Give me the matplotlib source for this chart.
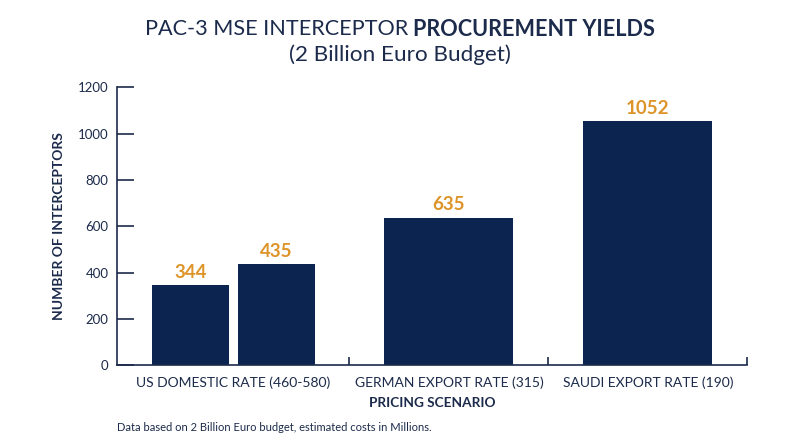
import matplotlib
matplotlib.use("Agg")
import matplotlib.pyplot as plt

# ---------- Дані ----------
categories = ["US DOMESTIC RATE (460-580)", "GERMAN EXPORT RATE (315)", "SAUDI EXPORT RATE (190)"]
us_values = [344, 435]
german_value = 635
saudi_value = 1052
y_ticks = [0, 200, 400, 600, 800, 1000, 1200]

NAVY = "#0c2550"
TEXT = "#1c2b4b"
ORANGE = "#dd9428"

plt.rcParams["font.family"] = ["Lato", "DejaVu Sans"]

fig = plt.figure(figsize=(8.0, 4.47), dpi=100)
ax = fig.add_axes([0.146, 0.183, 0.788, 0.622])

# позиції стовпців
us_x = [-0.30, 0.133]
us_w = 0.387
main_x = [1, 2]
main_w = 0.648

bars_us = ax.bar(us_x, us_values, width=us_w, color=NAVY)
bars_main = ax.bar(main_x, [german_value, saudi_value], width=main_w, color=NAVY)

for b in list(bars_us) + list(bars_main):
    ax.text(b.get_x() + b.get_width() / 2, b.get_height() + 20, str(int(b.get_height())),
            ha="center", va="bottom", color=ORANGE, fontsize=13.5, fontweight="bold")

ax.set_xlim(-0.67, 2.5)
ax.set_ylim(0, 1200)
ax.set_yticks(y_ticks)
ax.set_xticks([(us_x[0] + us_x[1]) / 2, 1, 2])
ax.set_xticklabels(categories)
ax.set_xticks([0.5, 1.5, 2.5], minor=True)

for s in ["top", "right"]:
    ax.spines[s].set_visible(False)
for s in ["left", "bottom"]:
    ax.spines[s].set_color(TEXT)
    ax.spines[s].set_linewidth(1.2)

ax.tick_params(axis="y", direction="in", length=12, width=1.2, color=TEXT,
               labelcolor=TEXT, labelsize=9.5, pad=6)
ax.tick_params(axis="x", which="major", length=0, labelcolor=TEXT, labelsize=10, pad=8)
ax.tick_params(axis="x", which="minor", direction="in", length=6, width=1.2, color=TEXT)

ax.set_ylabel("NUMBER OF INTERCEPTORS", fontsize=10, fontweight="bold", color=TEXT, labelpad=9)
ax.set_xlabel("PRICING SCENARIO", fontsize=9.8, fontweight="bold", color=TEXT, labelpad=6)

# ---------- Заголовок (змішана товщина шрифту) ----------
part1 = "PAC-3 MSE INTERCEPTOR "
part2 = "PROCUREMENT YIELDS"
t1 = fig.text(0, 0.935, part1, fontsize=15.6, color=TEXT, va="center", ha="left")
t2 = fig.text(0, 0.935, part2, fontsize=15.6, color=TEXT, va="center", ha="left", fontweight="bold")
fig.canvas.draw()
r = fig.canvas.get_renderer()
w1 = t1.get_window_extent(r).width
w2 = t2.get_window_extent(r).width
x0 = (800 - (w1 + w2)) / 2
t1.set_x(x0 / 800)
t2.set_x((x0 + w1) / 800)

fig.text(0.5, 0.878, "(2 Billion Euro Budget)", fontsize=16.2, color=TEXT, ha="center", va="center")

fig.text(0.146, 0.043, "Data based on 2 Billion Euro budget, estimated costs in Millions.",
         fontsize=8, color=TEXT, ha="left", va="center")

fig.savefig("out.png", dpi=100)
